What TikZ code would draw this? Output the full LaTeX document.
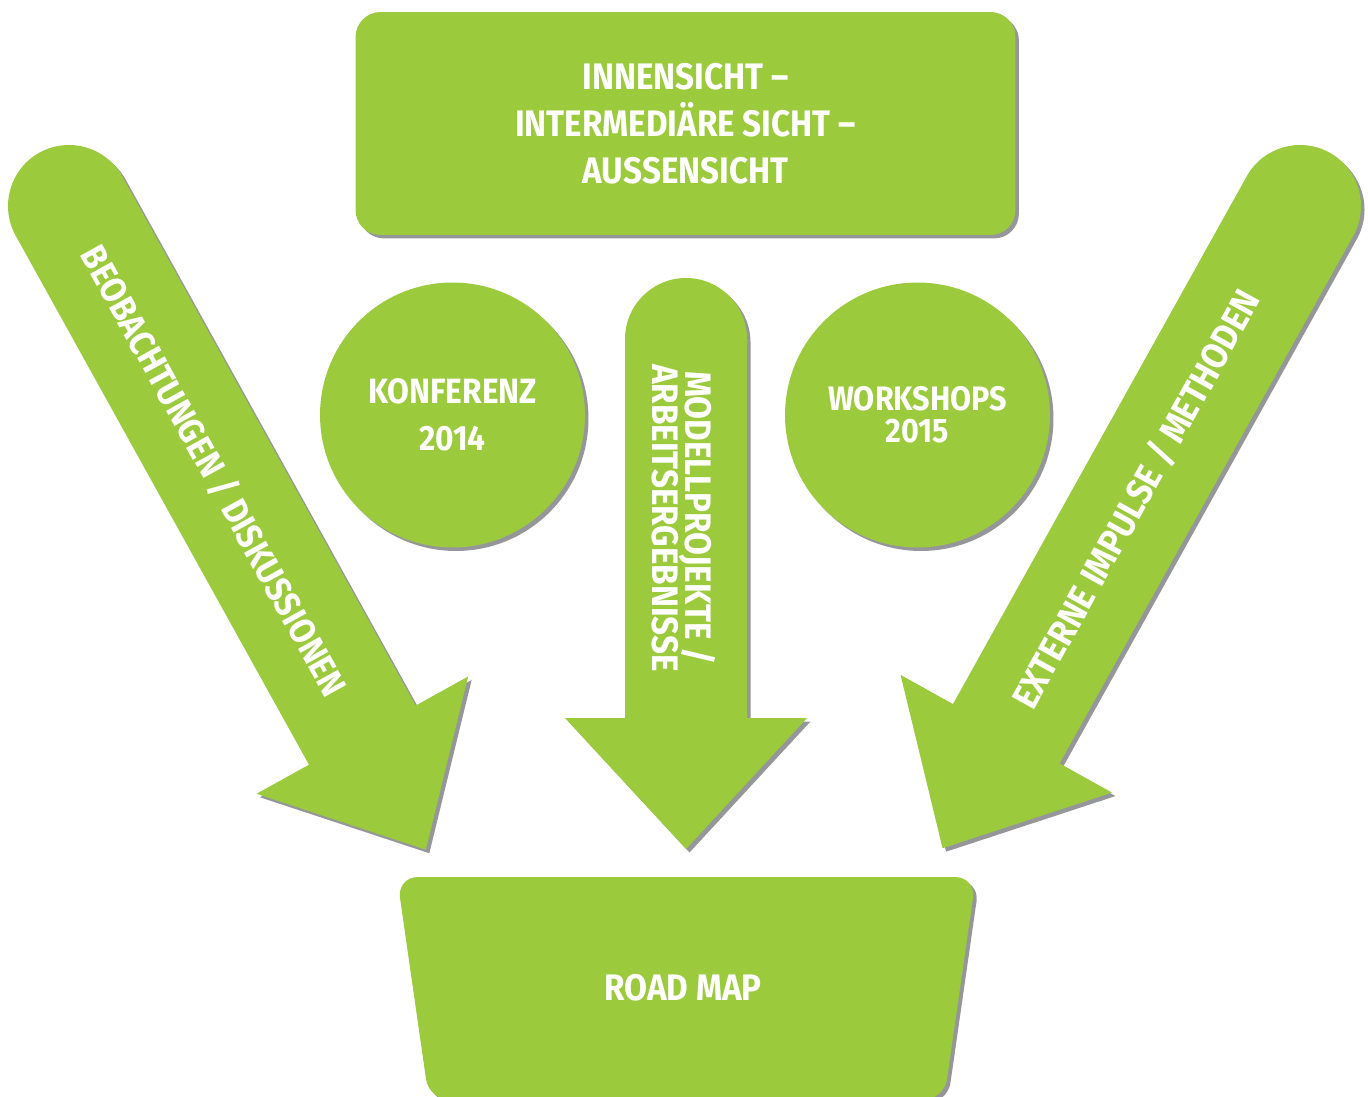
\documentclass[tikz,border=0pt]{standalone}
\usepackage{fontspec}
\setsansfont{Fira Sans}[FakeStretch=0.9]
\usepackage{tikz}
\usetikzlibrary{shadows}

\definecolor{leaf}{HTML}{9BCA3C}
\definecolor{shadowgrey}{HTML}{94969A}

% block arrow: #1 centre of the round tail, #2 direction, #3 shaft length
\newcommand\blockarrow[3]{%
  \foreach \off/\col in {3.5/shadowgrey,0/leaf}
    \fill[\col,shift={(\off,\off)},shift={(#1)},rotate=#2]
      (0,61) -- (#3,61) -- (#3,121) -- (#3+131,0) -- (#3,-121) -- (#3,-61) -- (0,-61)
      arc[start angle=270,end angle=90,radius=61] -- cycle;
}

\begin{document}
\begin{tikzpicture}[
  x=0.02cm, y=-0.02cm,
  casts/.style={drop shadow={shadow xshift=0.07cm,shadow yshift=-0.07cm,fill=shadowgrey,opacity=1}},
  txt/.style={text=white,align=center,font=\sffamily\bfseries\fontsize{21}{26.7}\selectfont},
  box/.style={fill=leaf,rounded corners=0.5cm,minimum width=13.2cm,minimum height=4.46cm,casts},
  disc/.style={circle,fill=leaf,minimum size=5.3cm,inner sep=0pt,casts}
]
  \useasboundingbox (0,0) rectangle (1368,1097);

  \blockarrow{69,206}{-61}{605}
  \blockarrow{686,339}{-90}{379}
  \blockarrow{1300,206}{-119.1}{604}

  \node[box,txt] (views) at (685.5,123.5) {INNENSICHT –\\INTERMEDIÄRE SICHT –\\AUSSENSICHT};
  \node[disc,txt,font=\sffamily\bfseries\fontsize{20}{26.7}\selectfont] (konf) at (452.5,415) {KONFERENZ\\2014};
  \node[disc,txt,font=\sffamily\bfseries\fontsize{19.3}{18.2}\selectfont] (work) at (917.5,415) {WORKSHOPS\\2015};

  \fill[leaf,casts,rounded corners=0.42cm] (397,877) -- (976,877) -- (944,1100) -- (429,1100) -- cycle;
  \node[txt] (road) at (683,988) {ROAD MAP};

  \node[txt,rotate=-61,font=\sffamily\bfseries\fontsize{20.5}{24}\selectfont] (obs) at (214,471) {BEOBACHTUNGEN / DISKUSSIONEN};
  \node[txt,rotate=-90,font=\sffamily\bfseries\fontsize{21}{19}\selectfont] (mod) at (684,518) {MODELLPROJEKTE /\\ARBEITSERGEBNISSE};
  \node[txt,rotate=61] (ext) at (1136,499) {EXTERNE IMPULSE / METHODEN};
\end{tikzpicture}
\end{document}
